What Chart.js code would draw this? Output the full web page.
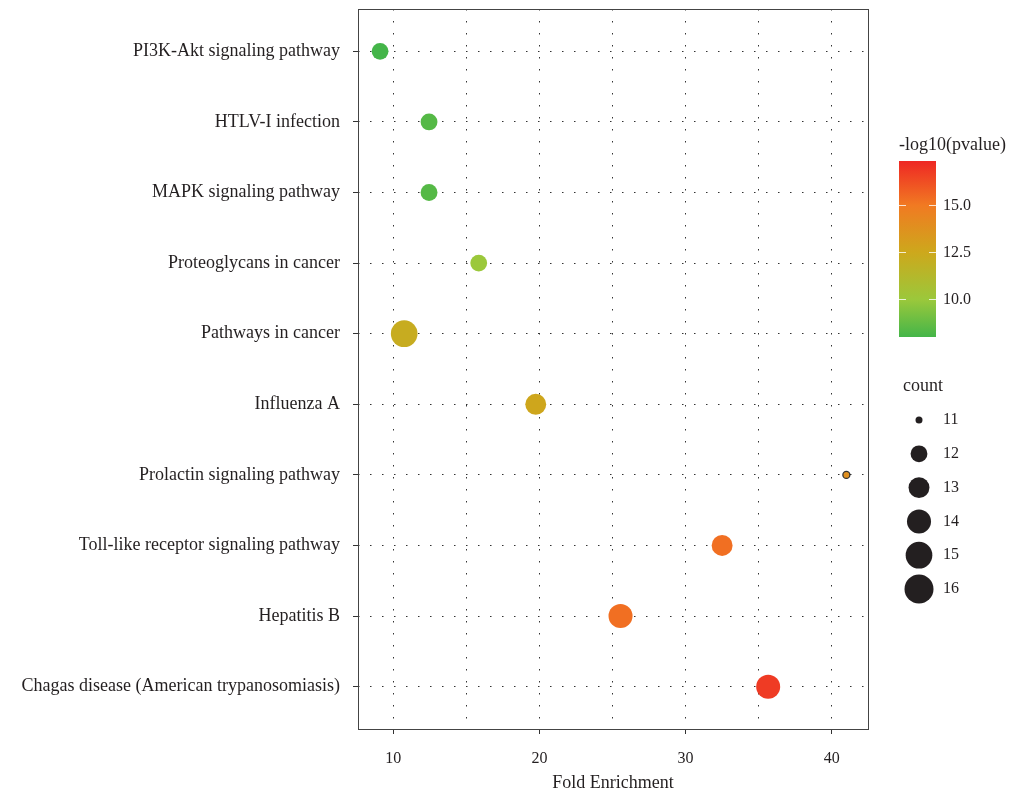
<!DOCTYPE html>
<html>
<head>
<meta charset="utf-8">
<script src="https://cdn.jsdelivr.net/npm/chart.js@4"></script>
<style>
  html, body { margin: 0; padding: 0; background: #fff; }
  #wrap { width: 1010px; height: 792px; }
</style>
</head>
<body>
<div id="wrap"><canvas id="grafico" width="1010" height="792"></canvas></div>
<script>
// dados
const categorias = [
  'PI3K-Akt signaling pathway',
  'HTLV-I infection',
  'MAPK signaling pathway',
  'Proteoglycans in cancer',
  'Pathways in cancer',
  'Influenza A',
  'Prolactin signaling pathway',
  'Toll-like receptor signaling pathway',
  'Hepatitis B',
  'Chagas disease (American trypanosomiasis)'
];
const foldEnrichment = [9.1, 12.45, 12.45, 15.85, 10.75, 19.75, 41.0, 32.5, 25.55, 35.65];
const contagem = [12, 12, 12, 12, 15, 13, 11, 13, 14, 14];
const logP = [8.0, 8.4, 8.4, 10.0, 12.2, 12.6, 13.8, 15.3, 15.3, 16.8];

const xGrade = [10, 15, 20, 25, 30, 35, 40];
const xRotulos = [10, 20, 30, 40];
const barraTicks = [10.0, 12.5, 15.0];
const faixaP = [8.0, 17.36];
const niveisContagem = [11, 12, 13, 14, 15, 16];

const fonte = "'Liberation Serif', 'DejaVu Serif', serif";

// escala de cor (-log10 p)
const paradas = [
  { v: 8.0, c: [68, 181, 73] },
  { v: 10.0, c: [155, 200, 59] },
  { v: 12.5, c: [205, 168, 28] },
  { v: 15.0, c: [241, 122, 34] },
  { v: 17.36, c: [238, 39, 36] }
];
function corPara(v) {
  if (v <= paradas[0].v) return `rgb(${paradas[0].c})`;
  for (let i = 1; i < paradas.length; i++) {
    const a = paradas[i - 1], b = paradas[i];
    if (v <= b.v) {
      const t = (v - a.v) / (b.v - a.v);
      const c = a.c.map((x, k) => Math.round(x + (b.c[k] - x) * t));
      return `rgb(${c})`;
    }
  }
  return `rgb(${paradas[paradas.length - 1].c})`;
}

// tamanho: área proporcional (como scale_size)
function raioPara(n) {
  const min = niveisContagem[0], max = niveisContagem[niveisContagem.length - 1];
  return 3.5 + 11 * Math.sqrt((n - min) / (max - min));
}

const pontos = categorias.map((c, i) => ({
  x: foldEnrichment[i], y: i + 1, n: contagem[i], p: logP[i]
}));

// moldura + legendas do lado direito
const legendaPlugin = {
  id: 'legendas',
  afterDraw(chart) {
    const ctx = chart.ctx;
    const a = chart.chartArea;
    ctx.save();
    ctx.strokeStyle = '#444';
    ctx.lineWidth = 1;
    ctx.strokeRect(Math.round(a.left) + 0.5, Math.round(a.top) + 0.5, Math.round(a.right - a.left), Math.round(a.bottom - a.top));

    ctx.fillStyle = '#231f20';
    ctx.font = '18px ' + fonte;
    ctx.textBaseline = 'middle';
    ctx.textAlign = 'left';
    ctx.fillText('-log10(pvalue)', 899, 145);

    // barra de cor
    const bx = 899, by = 161, bw = 37, bh = 176;
    const grad = ctx.createLinearGradient(0, by + bh, 0, by);
    paradas.forEach(s => {
      grad.addColorStop((s.v - faixaP[0]) / (faixaP[1] - faixaP[0]), `rgb(${s.c})`);
    });
    ctx.fillStyle = grad;
    ctx.fillRect(bx, by, bw, bh);
    ctx.strokeStyle = 'rgba(255,255,255,0.8)';
    ctx.font = '16px ' + fonte;
    barraTicks.forEach(t => {
      const y = Math.round(by + bh - (t - faixaP[0]) / (faixaP[1] - faixaP[0]) * bh) + 0.5;
      ctx.beginPath();
      ctx.moveTo(bx, y); ctx.lineTo(bx + 7, y);
      ctx.moveTo(bx + bw - 7, y); ctx.lineTo(bx + bw, y);
      ctx.stroke();
      ctx.fillStyle = '#231f20';
      ctx.fillText(t.toFixed(1), 943, y);
    });

    // legenda de contagem
    ctx.font = '18px ' + fonte;
    ctx.fillText('count', 903, 386);
    ctx.font = '16px ' + fonte;
    niveisContagem.forEach((n, i) => {
      const y = 420 + i * 33.8;
      ctx.beginPath();
      ctx.arc(919, y, raioPara(n), 0, Math.PI * 2);
      ctx.fillStyle = '#231f20';
      ctx.fill();
      ctx.fillText(String(n), 943, y);
    });
    ctx.restore();
  }
};

new Chart(document.getElementById('grafico'), {
  type: 'scatter',
  data: {
    datasets: [{
      data: pontos,
      pointRadius: c => raioPara(c.raw.n),
      pointHoverRadius: c => raioPara(c.raw.n),
      backgroundColor: c => corPara(c.raw.p),
      borderColor: c => c.raw.n === niveisContagem[0] ? '#333' : corPara(c.raw.p),
      borderWidth: c => c.raw.n === niveisContagem[0] ? 1.3 : 0
    }]
  },
  options: {
    responsive: false,
    animation: false,
    events: [],
    layout: { autoPadding: false, padding: { left: 0, right: 142, top: 9, bottom: 0 } },
    plugins: { legend: { display: false }, tooltip: { enabled: false } },
    scales: {
      x: {
        type: 'linear',
        min: 7.59,
        max: 42.48,
        afterBuildTicks: s => { s.ticks = xGrade.map(v => ({ value: v })); },
        afterFit: s => { s.height = 63; s.paddingLeft = 0; s.paddingRight = 0; },
        ticks: {
          autoSkip: false,
          maxRotation: 0,
          padding: 15,
          color: '#231f20',
          font: { family: fonte, size: 16 },
          callback: v => xRotulos.includes(v) ? String(v) : ''
        },
        grid: {
          color: '#333',
          lineWidth: 1,
          tickLength: 5,
          tickWidth: 1,
          tickBorderDash: [],
          tickColor: c => (c.tick && xRotulos.includes(c.tick.value)) ? '#333' : 'rgba(0,0,0,0)'
        },
        border: { display: false, dash: [1.5, 10.5] },
        title: {
          display: true,
          text: 'Fold Enrichment',
          color: '#231f20',
          font: { family: fonte, size: 18, lineHeight: 1 },
          padding: { top: 0, bottom: 0 }
        }
      },
      y: {
        type: 'linear',
        min: 0.4,
        max: 10.6,
        reverse: true,
        afterBuildTicks: s => { s.ticks = categorias.map((c, i) => ({ value: i + 1 })); },
        afterFit: s => { s.width = 358; s.paddingTop = 0; s.paddingBottom = 0; },
        ticks: {
          autoSkip: false,
          padding: 13,
          color: '#231f20',
          font: { family: fonte, size: 18 },
          callback: v => categorias[v - 1]
        },
        grid: {
          color: '#333',
          lineWidth: 1,
          tickLength: 5,
          tickWidth: 1,
          tickBorderDash: [],
          tickColor: '#333'
        },
        border: { display: false, dash: [1.5, 10.5] }
      }
    }
  },
  plugins: [legendaPlugin]
});
</script>
</body>
</html>
